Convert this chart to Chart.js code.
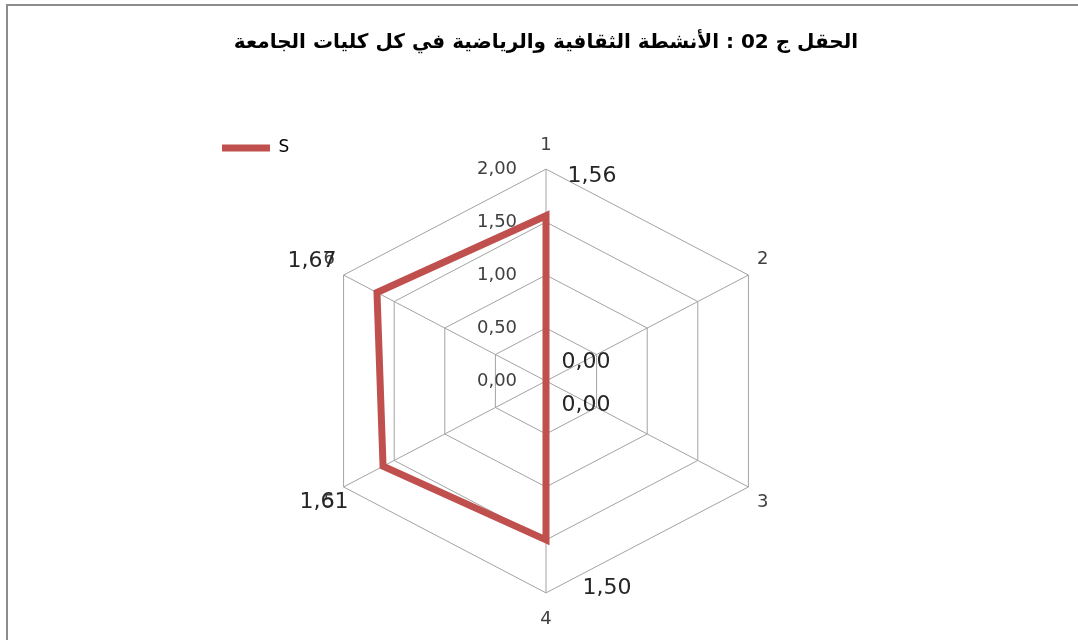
<!DOCTYPE html>
<html>
<head>
<meta charset="utf-8">
<script src="https://cdn.jsdelivr.net/npm/chart.js@4.4.1/dist/chart.umd.min.js"></script>
<style>
  html, body { margin: 0; padding: 0; background: #fff; overflow: hidden; }
  canvas { display: block; }
</style>
</head>
<body>
<canvas id="chart" width="1078" height="640"></canvas>
<script>
const chartTitle = 'الحقل ج 02 : الأنشطة الثقافية والرياضية في كل كليات الجامعة';
const axisLabels = ['1', '2', '3', '4', '5', '6'];
const seriesS = [1.56, 0, 0, 1.50, 1.61, 1.67];
const tickLabels = ['0,00', '0,50', '1,00', '1,50', '2,00'];

const FONT = "'DejaVu Sans', sans-serif";
const fmt = v => v.toFixed(2).replace('.', ',');

// excel stretches the hexagon sideways, so widen x around the centre
const RadialScale = Chart.registry.getScale('radialLinear');
const baseGetPointPosition = RadialScale.prototype.getPointPosition;
RadialScale.prototype.getPointPosition = function (index, distance, extra) {
  const p = baseGetPointPosition.call(this, index, distance, extra);
  const k = this.options.stretchX || 1;
  return { x: this.xCenter + (p.x - this.xCenter) * k, y: p.y, angle: p.angle };
};
// tick labels sit left of the vertical axis, and the 0 tick is shown too
const baseDrawLabels = RadialScale.prototype.drawLabels;
RadialScale.prototype.drawLabels = function () {
  const min = this.min;
  this.min = -1e-9;
  this.ctx.save();
  this.ctx.translate(this.options.ticks.shiftX || 0, 0);
  baseDrawLabels.apply(this, arguments);
  this.ctx.restore();
  this.min = min;
};

const labelPad = [2, -2, -2, 5, -2, -2];
const valueOffsets = [[46, -39], [40, -19], [40, 24], [61, 48], [-59, 36], [-65, -31]];

const frame = {
  id: 'frame',
  beforeDraw(chart) {
    const ctx = chart.ctx;
    ctx.save();
    ctx.fillStyle = '#fff';
    ctx.fillRect(0, 0, chart.width, chart.height);
    ctx.strokeStyle = '#8c8c8c';
    ctx.lineWidth = 2;
    ctx.beginPath();
    ctx.moveTo(7, chart.height);
    ctx.lineTo(7, 5);
    ctx.lineTo(chart.width, 5);
    ctx.stroke();
    ctx.restore();
  },
  afterLayout(chart) {
    // chartArea legend gets its top reset to 0; put it back under the title
    const lg = chart.legend;
    const h = lg.bottom - lg.top;
    lg.top = chart.chartArea.top;
    lg.bottom = lg.top + h;
    lg.adjustHitBoxes && lg.adjustHitBoxes();
  }
};

const valueLabels = {
  id: 'valueLabels',
  afterDatasetsDraw(chart) {
    const ctx = chart.ctx;
    const meta = chart.getDatasetMeta(0);
    const data = chart.data.datasets[0].data;
    ctx.save();
    ctx.font = '22px ' + FONT;
    ctx.fillStyle = '#262626';
    ctx.textAlign = 'center';
    ctx.textBaseline = 'middle';
    meta.data.forEach((pt, i) => {
      ctx.fillText(fmt(data[i]), pt.x + valueOffsets[i][0], pt.y + valueOffsets[i][1]);
    });
    ctx.restore();
  }
};

new Chart(document.getElementById('chart'), {
  type: 'radar',
  data: {
    labels: axisLabels,
    datasets: [{
      label: 'S',
      data: seriesS,
      borderColor: '#C0504D',
      backgroundColor: '#C0504D',
      borderWidth: 7,
      borderCapStyle: 'round',
      borderJoinStyle: 'miter',
      fill: false,
      pointRadius: 0,
      pointHoverRadius: 0
    }]
  },
  options: {
    responsive: false,
    animation: false,
    events: [],
    layout: { padding: { left: 217, right: 203, top: 0, bottom: 7.5 } },
    plugins: {
      title: {
        display: true,
        text: chartTitle,
        color: '#000',
        font: { family: FONT, size: 20, weight: 'bold' },
        padding: { top: 31, bottom: 79.5 }
      },
      legend: {
        position: 'chartArea',
        align: 'start',
        labels: {
          usePointStyle: true,
          pointStyle: 'line',
          pointStyleWidth: 48,
          padding: 5,
          color: '#000',
          font: { family: FONT, size: 17 }
        }
      },
      tooltip: { enabled: false }
    },
    scales: {
      r: {
        min: 0,
        max: 2,
        stretchX: 1.103,
        ticks: {
          stepSize: 0.5,
          shiftX: -49,
          showLabelBackdrop: false,
          color: '#404040',
          font: { family: FONT, size: 18 },
          callback: (v, i) => tickLabels[i]
        },
        grid: { color: '#a3a3a3', lineWidth: 1 },
        angleLines: { color: '#a3a3a3', lineWidth: 1 },
        pointLabels: {
          color: '#404040',
          font: { family: FONT, size: 18 },
          padding: c => labelPad[c.index]
        }
      }
    }
  },
  plugins: [frame, valueLabels]
});
</script>
</body>
</html>
